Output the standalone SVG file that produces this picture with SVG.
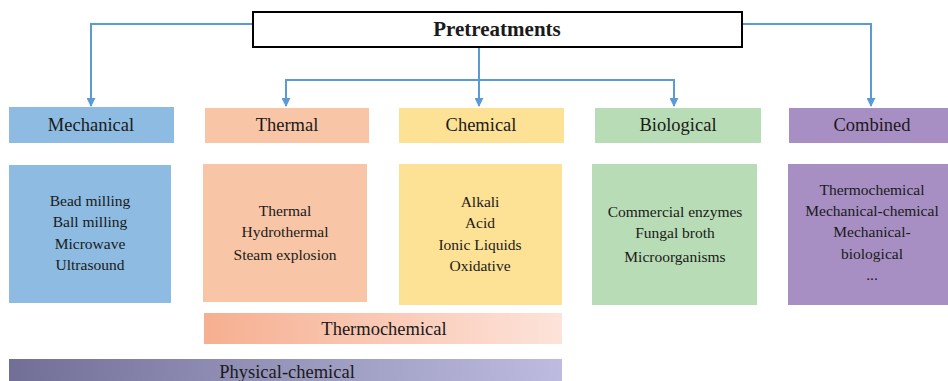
<svg xmlns="http://www.w3.org/2000/svg" width="948" height="381" viewBox="0 0 948 381">
<defs>
<marker id="arr" viewBox="0 0 10 10" refX="9" refY="5" markerWidth="9" markerHeight="9" markerUnits="userSpaceOnUse" orient="auto">
<path d="M0,0 L10,5 L0,10 z" fill="#5B9BD5"/>
</marker>
<linearGradient id="gThermo" x1="0" y1="0" x2="1" y2="0">
<stop offset="0" stop-color="#F6AF90"/>
<stop offset="1" stop-color="#FDE3DA"/>
</linearGradient>
<linearGradient id="gPhys" x1="0" y1="0" x2="1" y2="0">
<stop offset="0" stop-color="#716F96"/>
<stop offset="1" stop-color="#BDBCE0"/>
</linearGradient>
</defs>
<style>
text{font-family:'Liberation Serif','DejaVu Serif',serif;fill:#1a1a1a;text-anchor:middle}
.lbl{font-size:18.5px}
.det{font-size:15.5px}
.title{font-size:21px;font-weight:bold}
.conn{fill:none;stroke:#5B9BD5;stroke-width:2}
</style>
<g id="connectors">
<path class="conn" d="M253,24 H91 V106" marker-end="url(#arr)"/>
<path class="conn" d="M742,24 H871 V106" marker-end="url(#arr)"/>
<path class="conn" d="M479,47 V106" marker-end="url(#arr)"/>
<path class="conn" d="M479,80 H286 V106" marker-end="url(#arr)"/>
<path class="conn" d="M479,80 H674 V106" marker-end="url(#arr)"/>
</g>
<g id="pretreatments">
<rect x="253" y="12" width="489" height="35" fill="#fff" stroke="#000" stroke-width="2"/>
<text class="title" x="497" y="36">Pretreatments</text>
</g>
<g id="mechanical">
<rect x="9" y="107" width="165" height="36" fill="#8DBBE1"/>
<text class="lbl" x="91" y="131">Mechanical</text>
</g>
<g id="thermal">
<rect x="205" y="108" width="164" height="35" fill="#F8C5A6"/>
<text class="lbl" x="287" y="131">Thermal</text>
</g>
<g id="chemical">
<rect x="399" y="108" width="165" height="35" fill="#FDE195"/>
<text class="lbl" x="481" y="131">Chemical</text>
</g>
<g id="biological">
<rect x="595" y="108" width="166" height="35" fill="#B8DCB5"/>
<text class="lbl" x="678" y="131">Biological</text>
</g>
<g id="combined">
<rect x="789" y="108" width="159" height="35" fill="#A88FC3"/>
<text class="lbl" x="872" y="131">Combined</text>
</g>
<g id="mechanical-detail">
<rect x="9" y="165" width="162" height="138" fill="#8DBBE1"/>
<text class="det" x="90" y="206">Bead milling</text>
<text class="det" x="90" y="227">Ball milling</text>
<text class="det" x="90" y="249">Microwave</text>
<text class="det" x="90" y="270">Ultrasound</text>
</g>
<g id="thermal-detail">
<rect x="203" y="164" width="164" height="138" fill="#F8C5A6"/>
<text class="det" x="285" y="216">Thermal</text>
<text class="det" x="285" y="237">Hydrothermal</text>
<text class="det" x="285" y="260">Steam explosion</text>
</g>
<g id="chemical-detail">
<rect x="399" y="164" width="163" height="141" fill="#FDE195"/>
<text class="det" x="480" y="207">Alkali</text>
<text class="det" x="480" y="228">Acid</text>
<text class="det" x="480" y="250">Ionic Liquids</text>
<text class="det" x="480" y="271">Oxidative</text>
</g>
<g id="biological-detail">
<rect x="592" y="164" width="165" height="141" fill="#B8DCB5"/>
<text class="det" x="675" y="217">Commercial  enzymes</text>
<text class="det" x="675" y="238">Fungal broth</text>
<text class="det" x="675" y="262">Microorganisms</text>
</g>
<g id="combined-detail">
<rect x="788" y="164" width="160" height="141" fill="#A88FC3"/>
<text class="det" x="872" y="195">Thermochemical</text>
<text class="det" x="872" y="216">Mechanical-chemical</text>
<text class="det" x="872" y="237">Mechanical-</text>
<text class="det" x="872" y="259">biological</text>
<text class="det" x="872" y="280">...</text>
</g>
<g id="thermochemical">
<rect x="204" y="313" width="358" height="31" fill="url(#gThermo)"/>
<text class="lbl" x="384" y="335">Thermochemical</text>
</g>
<g id="physical-chemical">
<rect x="9" y="359" width="553" height="22" fill="url(#gPhys)"/>
<text class="lbl" x="287" y="378">Physical-chemical</text>
</g>
</svg>
